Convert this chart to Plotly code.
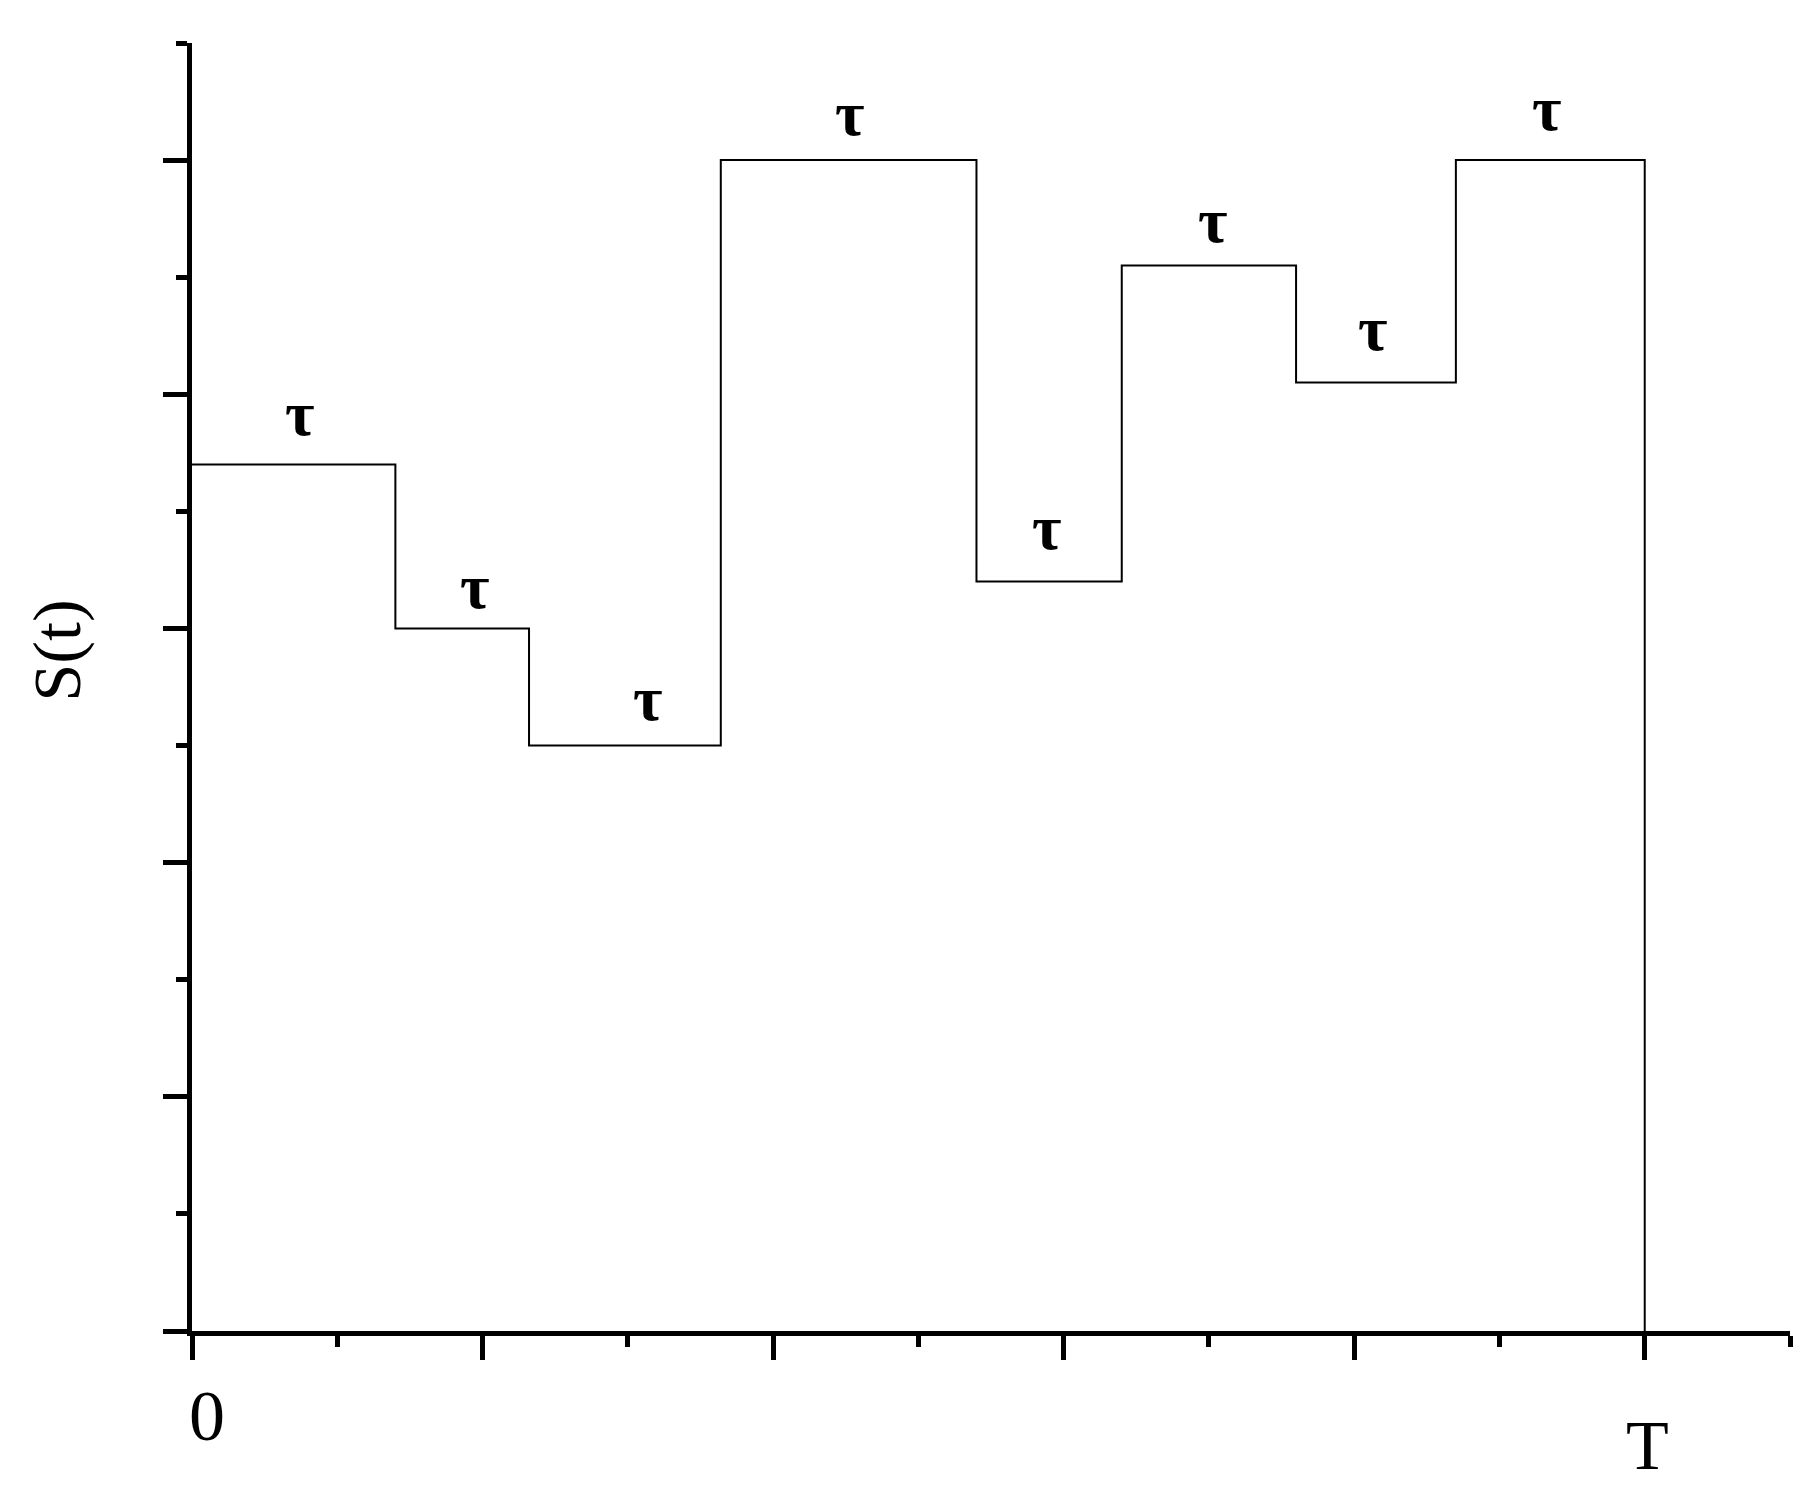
import plotly.graph_objects as go

# segment start times (in units of the major tick), last point is T
seg_start = [0, 0.70, 1.16, 1.82, 2.70, 3.20, 3.80, 4.35]
T_end = 5.0
levels = [3.70, 3.00, 2.50, 5.00, 3.20, 4.55, 4.05, 5.00]

# tau label anchors
tau_x = [0.372, 0.974, 1.569, 2.264, 2.942, 3.513, 4.064, 4.663]
tau_y = [3.92, 3.18, 2.70, 5.20, 3.43, 4.74, 4.28, 5.22]

x_labels = ["0", "T"]
x_label_pos = [0, T_end]

FONT = "Liberation Serif"

fig = go.Figure()

# step curve S(t), drops back to zero at T
fig.add_trace(go.Scatter(
    x=seg_start + [T_end],
    y=levels + [0],
    mode="lines",
    line=dict(color="black", width=2, shape="hv"),
    showlegend=False,
    hoverinfo="skip",
))

annotations = []
for tx, ty in zip(tau_x, tau_y):
    annotations.append(dict(
        x=tx, y=ty, xref="x", yref="y", text="<b>τ</b>", showarrow=False,
        xanchor="center", yanchor="middle",
        font=dict(family=FONT, size=64, color="black"),
    ))

# axis end labels 0 and T
annotations.append(dict(
    x=x_label_pos[0], y=0, xref="x", yref="y", text=x_labels[0], showarrow=False,
    xanchor="center", yanchor="middle", xshift=15, yshift=-85,
    font=dict(family=FONT, size=72, color="black"),
))
annotations.append(dict(
    x=x_label_pos[1], y=0, xref="x", yref="y", text=x_labels[1], showarrow=False,
    xanchor="center", yanchor="middle", xshift=3, yshift=-114,
    font=dict(family=FONT, size=70, color="black"),
))

# y axis title
annotations.append(dict(
    x=0, y=2.906, xref="paper", yref="y", text="S(t)", showarrow=False,
    xanchor="center", yanchor="middle", xshift=-135, textangle=-90,
    font=dict(family=FONT, size=68, color="black"),
))

axis_common = dict(
    showgrid=False, zeroline=False, showline=True,
    linecolor="black", linewidth=5,
    ticks="outside", ticklen=24, tickwidth=5, tickcolor="black",
    showticklabels=False, dtick=1, tick0=0,
    minor=dict(ticks="outside", ticklen=11, tickwidth=5, tickcolor="black", dtick=0.5),
)

# page body has an 8px margin, so the figure is 8px smaller each way
fig.update_layout(
    width=1804, height=1496,
    margin=dict(l=184, r=22, t=35, b=173),
    paper_bgcolor="white", plot_bgcolor="white",
    xaxis=dict(range=[0, 5.5], **axis_common),
    yaxis=dict(range=[0, 5.5], **axis_common),
    annotations=annotations,
)

fig.write_html("out.html")
